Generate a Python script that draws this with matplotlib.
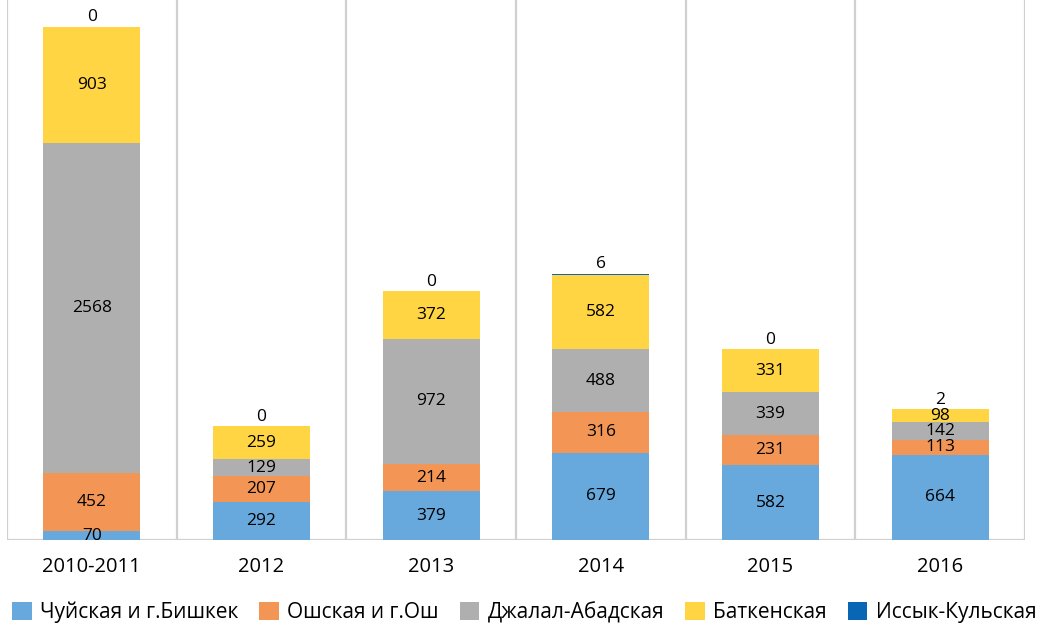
import matplotlib.pyplot as plt
import numpy as np

plt.rcParams['font.family'] = ['Open Sans', 'DejaVu Sans']

categories = ['2010-2011', '2012', '2013', '2014', '2015', '2016']
series_names = ['Чуйская и г.Бишкек', 'Ошская и г.Ош', 'Джалал-Абадская',
                'Баткенская', 'Иссык-Кульская']
chui = [70, 292, 379, 679, 582, 664]
osh = [452, 207, 214, 316, 231, 113]
jalal = [2568, 129, 972, 488, 339, 142]
batken = [903, 259, 372, 582, 331, 98]
issyk = [0, 0, 0, 6, 0, 2]
colors = ['#67A9DC', '#F39655', '#AFAFAF', '#FFD543', '#0866B4']

fig = plt.figure(figsize=(10.38, 6.26), dpi=100)
ax = fig.add_axes([7 / 1038, 86 / 626, 1018 / 1038, 540 / 626])

x = np.arange(len(categories))
bottom = np.zeros(len(categories))
for name, vals, col in zip(series_names, [chui, osh, jalal, batken, issyk], colors):
    vals = np.array(vals, dtype=float)
    ax.bar(x, vals, 0.57, bottom=bottom, color=col, label=name, zorder=3)
    for xi, b, v in zip(x, bottom, vals):
        yc = b + v / 2
        if v < 20:
            # tiny top segment: label sits just above the bar
            yc = b + v + 72
        ax.text(xi, yc, f'{int(v)}', ha='center', va='center', fontsize=12.5,
                color='black', zorder=4)
    bottom += vals

ax.set_xlim(-0.5, len(categories) - 0.5)
ax.set_ylim(0, 4200)
for b in np.arange(-0.5, len(categories), 1.0):
    ax.axvline(b, color='#D0D0D0', lw=1.6, zorder=1)
ax.axhline(0, color='#D0D0D0', lw=1.6, zorder=2)

for s in ax.spines.values():
    s.set_visible(False)
ax.set_yticks([])
ax.set_xticks(x)
ax.set_xticklabels(categories, fontsize=14.5)
ax.tick_params(axis='x', length=0, pad=12)

ax.legend(loc='center', bbox_to_anchor=(0.508, -0.134), ncol=5, frameon=False,
          fontsize=15, handlelength=0.95, handleheight=0.95, handletextpad=0.4,
          columnspacing=1.0, borderaxespad=0)

fig.savefig('out.png', dpi=100)
